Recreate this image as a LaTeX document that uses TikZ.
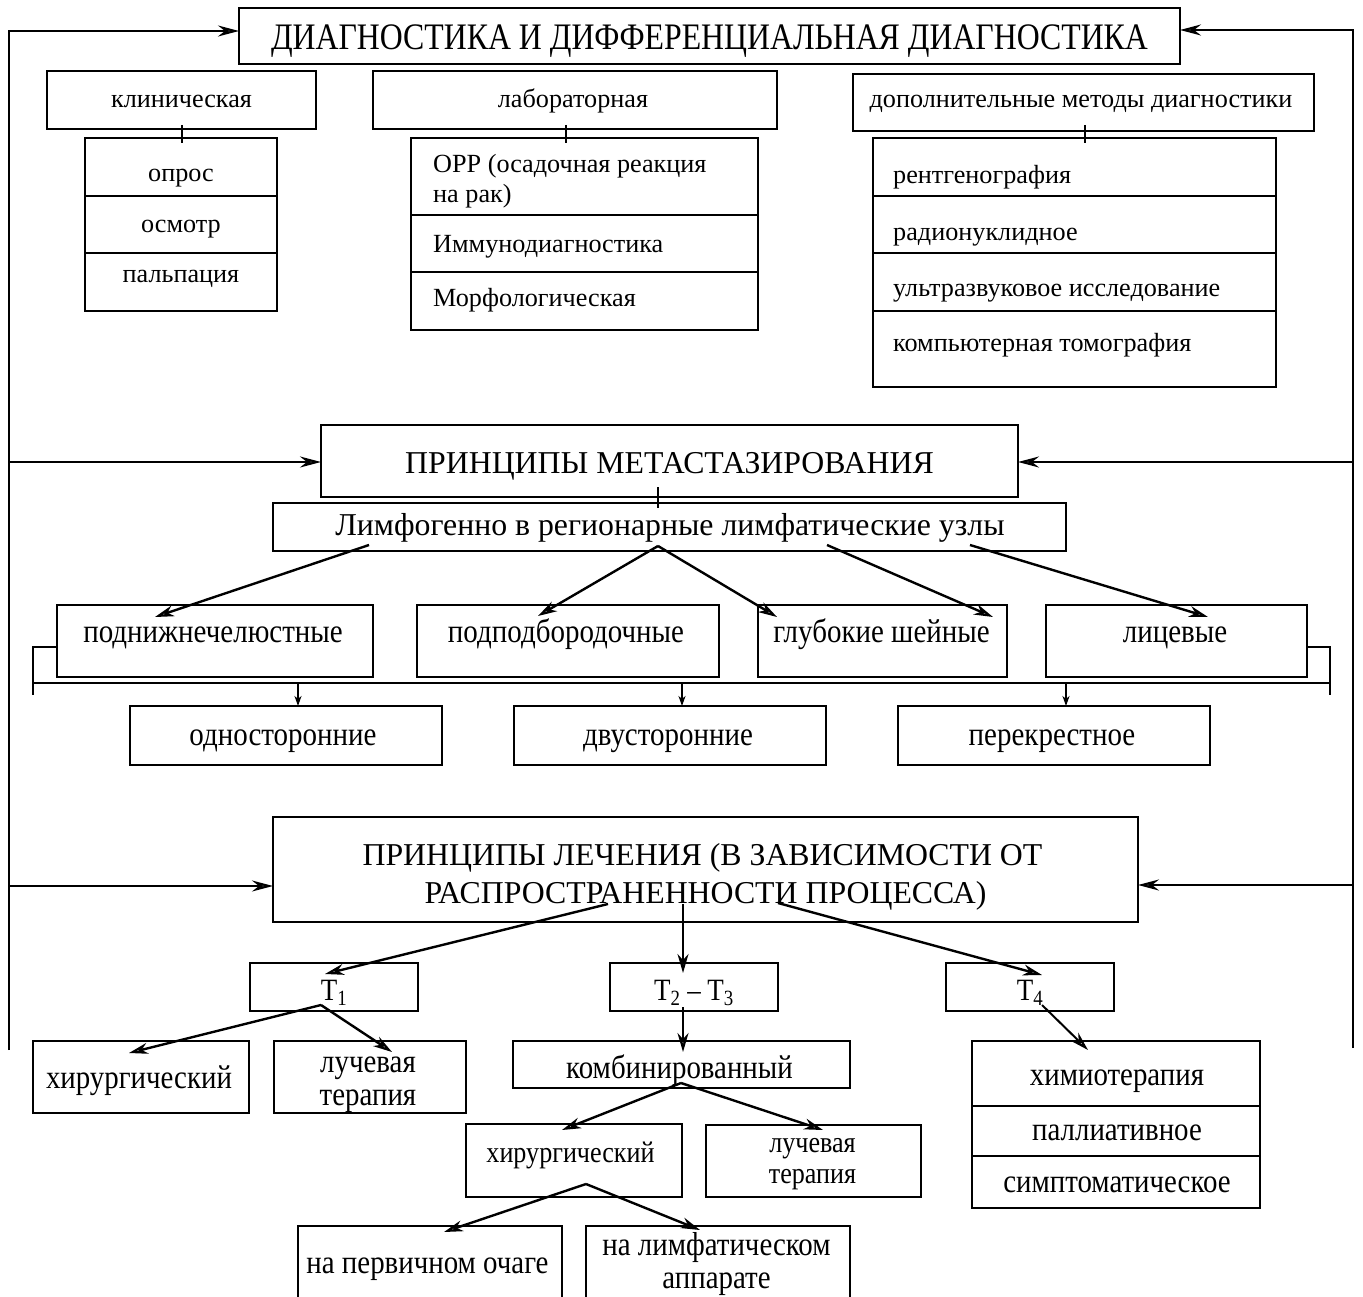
\documentclass[tikz,border=0pt]{standalone}
\usepackage{fontspec}
\setmainfont{Liberation Serif}
\newfontfamily\condA[FakeStretch=0.85]{Liberation Serif}
\newfontfamily\condB[FakeStretch=0.87]{Liberation Serif}
\usetikzlibrary{arrows.meta,calc}
\newcommand{\mkbox}[5]{\node[box,minimum width={(#4-#2)*1pt},minimum height={(#5-#3)*1pt}] (#1) at ({(#2+#4)/2},{(#3+#5)/2}) {};}
\begin{document}
\begin{tikzpicture}[x=1pt,y=-1pt,
 box/.style={draw,line width=1.9pt,inner sep=0pt,outer sep=0pt},
 txt/.style={inner sep=0pt,anchor=base},
 ltxt/.style={inner sep=0pt,anchor=base west},
 fTitle/.style={font=\condA\fontsize{37.4}{44}\selectfont},
 fA/.style={font=\fontsize{31.8}{38}\selectfont},
 fB/.style={font=\condB\fontsize{33.3}{39}\selectfont},
 fC/.style={font=\condB\fontsize{33.2}{39}\selectfont},
 fT/.style={font=\condB\fontsize{31}{37}\selectfont},
 fD/.style={font=\condB\fontsize{30}{35}\selectfont},
 fE/.style={font=\fontsize{26.2}{31}\selectfont},
 arr/.style={line width=2.6pt,-{Stealth[open,length=21pt,width=11pt,inset=7pt,line width=2.2pt]}},
 darr/.style={line width=2.4pt,-{Stealth[open,length=19pt,width=11pt,inset=6pt,line width=2.2pt]}},
 sarr/.style={line width=1.6pt,-{Stealth[length=10pt,width=7pt,inset=3pt]}},
 tk/.style={line width=1.5pt},
 ln/.style={line width=1.9pt}
]
\useasboundingbox (0,0) rectangle (1363,1297);
\clip (0,0) rectangle (1363,1297);

% ---------- boxes ----------
\mkbox{title}{239}{8}{1180}{64}
\mkbox{clin}{47}{71}{316}{129}
\mkbox{lab}{373}{71}{777}{129}
\mkbox{add}{853}{74}{1314}{131}
\mkbox{c1}{85}{138}{277}{196}
\mkbox{c2}{85}{196}{277}{253}
\mkbox{c3}{85}{253}{277}{311}
\mkbox{l1}{411}{138}{758}{215}
\mkbox{l2}{411}{215}{758}{272}
\mkbox{l3}{411}{272}{758}{330}
\mkbox{d1}{873}{138}{1276}{196}
\mkbox{d2}{873}{196}{1276}{253}
\mkbox{d3}{873}{253}{1276}{311}
\mkbox{d4}{873}{311}{1276}{387}
\mkbox{met}{321}{425}{1018}{497}
\mkbox{lym}{273}{503}{1066}{551}
\mkbox{pn}{57}{605}{373}{677}
\mkbox{pp}{417}{605}{719}{677}
\mkbox{gl}{758}{605}{1007}{677}
\mkbox{li}{1046}{605}{1307}{677}
\mkbox{od}{130}{706}{442}{765}
\mkbox{dv}{514}{706}{826}{765}
\mkbox{pk}{898}{706}{1210}{765}
\mkbox{tr}{273}{817}{1138}{922}
\mkbox{t1}{250}{963}{418}{1011}
\mkbox{t23}{610}{963}{778}{1011}
\mkbox{t4}{946}{963}{1114}{1011}
\mkbox{h1}{33}{1041}{249}{1113}
\mkbox{r1}{274}{1041}{466}{1113}
\mkbox{kb}{513}{1041}{850}{1088}
\mkbox{h2}{466}{1124}{682}{1197}
\mkbox{r2}{706}{1125}{921}{1197}
\mkbox{pv}{298}{1226}{562}{1330}
\mkbox{lf}{586}{1226}{850}{1330}
\mkbox{x1}{972}{1041}{1260}{1106}
\mkbox{x2}{972}{1106}{1260}{1156}
\mkbox{x3}{972}{1156}{1260}{1208}

% ---------- texts ----------
\node[txt,fTitle] (tTitle) at (709.5,50) {ДИАГНОСТИКА И ДИФФЕРЕНЦИАЛЬНАЯ ДИАГНОСТИКА};
\node[txt,fE] (tClin) at (181.5,108) {клиническая};
\node[txt,fE] (tLab) at (573,108) {лабораторная};
\node[txt,fE] (tAdd) at (1081,108) {дополнительные методы диагностики};
\node[txt,fE] (tc1) at (181,182) {опрос};
\node[txt,fE] (tc2) at (181,233) {осмотр};
\node[txt,fE] (tc3) at (181,283) {пальпация};
\node[ltxt,fE] (tl1a) at (433,173) {ОРР (осадочная реакция};
\node[ltxt,fE] (tl1b) at (433,203) {на рак)};
\node[ltxt,fE] (tl2) at (433,253) {Иммунодиагностика};
\node[ltxt,fE] (tl3) at (433,307) {Морфологическая};
\node[ltxt,fE] (td1) at (893,184) {рентгенография};
\node[ltxt,fE] (td2) at (893,241) {радионуклидное};
\node[ltxt,fE] (td3) at (893,297) {ультразвуковое исследование};
\node[ltxt,fE] (td4) at (893,352) {компьютерная томография};
\node[txt,fA] (tMet) at (669.5,473) {ПРИНЦИПЫ МЕТАСТАЗИРОВАНИЯ};
\node[txt,fA] (tLym) at (670,535) {Лимфогенно в регионарные лимфатические узлы};
\node[txt,fB] (tpn) at (213,642) {поднижнечелюстные};
\node[txt,fB] (tpp) at (566,642) {подподбородочные};
\node[txt,fB] (tgl) at (881.5,642) {глубокие шейные};
\node[txt,fB] (tli) at (1175,642) {лицевые};
\node[txt,fB] (tod) at (283,745) {односторонние};
\node[txt,fB] (tdv) at (668,745) {двусторонние};
\node[txt,fB] (tpk) at (1052,745) {перекрестное};
\node[txt,fA] (ttr1) at (702.5,865) {ПРИНЦИПЫ ЛЕЧЕНИЯ (В ЗАВИСИМОСТИ ОТ};
\node[txt,fA] (ttr2) at (705.5,903) {РАСПРОСТРАНЕННОСТИ ПРОЦЕССА)};
\node[txt,fT] (tt1) at (334,1000) {T\textsubscript{1}};
\node[txt,fT] (tt23) at (694,1000) {T\textsubscript{2} – T\textsubscript{3}};
\node[txt,fT] (tt4) at (1030,1000) {T\textsubscript{4}};
\node[txt,fC] (th1) at (139,1088) {хирургический};
\node[txt,fC] (tr1a) at (368,1072) {лучевая};
\node[txt,fC] (tr1b) at (368,1105) {терапия};
\node[txt,fC] (tkb) at (679.5,1078) {комбинированный};
\node[txt,fD] (th2) at (570.5,1162) {хирургический};
\node[txt,fD] (tr2a) at (812.5,1152) {лучевая};
\node[txt,fD] (tr2b) at (812.5,1183) {терапия};
\node[txt,fC] (tpv) at (427.5,1273) {на первичном очаге};
\node[txt,fC] (tlfa) at (716.5,1255) {на лимфатическом};
\node[txt,fC] (tlfb) at (716.5,1288) {аппарате};
\node[txt,fC] (tx1) at (1117,1085) {химиотерапия};
\node[txt,fC] (tx2) at (1117,1140) {паллиативное};
\node[txt,fC] (tx3) at (1117,1192) {симптоматическое};

% ---------- outer feedback lines ----------
\coordinate (Lt) at (9,31);
\coordinate (Lb) at (9,1050);
\coordinate (Lm) at (9,462);
\coordinate (Lr) at (9,886);
\coordinate (Rt) at (1353,30);
\coordinate (Rb) at (1353,1048);
\coordinate (Rm) at (1353,462);
\coordinate (Rr) at (1353,885);
\draw[arr] (Lb) -- (Lt) -- (Lt -| title.west);
\draw[arr] (Rb) -- (Rt) -- (Rt -| title.east);
\draw[arr] (Lm) -- (Lm -| met.west);
\draw[arr] (Rm) -- (Rm -| met.east);
\draw[arr] (Lr) -- (Lr -| tr.west);
\draw[arr] (Rr) -- (Rr -| tr.east);

% ---------- ticks ----------
\coordinate (k1) at (182,0);
\coordinate (k2) at (566,0);
\coordinate (k3) at (1085,0);
\coordinate (k4) at (658,0);
\draw[tk] ($(k1 |- clin.south)+(0,-4)$) -- ($(k1 |- c1.north)+(0,5)$);
\draw[tk] ($(k2 |- lab.south)+(0,-4)$) -- ($(k2 |- l1.north)+(0,5)$);
\draw[tk] ($(k3 |- add.south)+(0,-6)$) -- ($(k3 |- d1.north)+(0,5)$);
\draw[tk] ($(k4 |- met.south)+(0,-10)$) -- ($(k4 |- lym.north)+(0,5)$);

% ---------- metastasis arrows ----------
\coordinate (m1s) at (369,545);
\coordinate (m1e) at (155,617);
\coordinate (mA) at (658,546);
\coordinate (m2e) at (538,616);
\coordinate (m3e) at (777,617);
\coordinate (m4s) at (827,545);
\coordinate (m4e) at (993,617);
\coordinate (m5s) at (970,545);
\coordinate (m5e) at (1208,617);
\draw[darr] (m1s) -- (m1e);
\draw[darr] (mA) -- (m2e);
\draw[darr] (mA) -- (m3e);
\draw[darr] (m4s) -- (m4e);
\draw[darr] (m5s) -- (m5e);

% ---------- bracket and split ----------
\coordinate (bL) at (33,647);
\coordinate (bLb) at (33,695);
\coordinate (bR) at (1330,647);
\coordinate (bRb) at (1330,695);
\coordinate (hL) at (33,683);
\coordinate (hR) at (1330,683);
\draw[ln] (bL -| pn.west) -- (bL) -- (bLb);
\draw[ln] (bR -| li.east) -- (bR) -- (bRb);
\draw[ln] (hL) -- (hR);
\draw[sarr] ($(hL -| od.north)+(12,0)$) -- ($(od.north)+(12,0)$);
\draw[sarr] ($(hL -| dv.north)+(12,0)$) -- ($(dv.north)+(12,0)$);
\draw[sarr] ($(hL -| pk.north)+(12,0)$) -- ($(pk.north)+(12,0)$);

% ---------- treatment arrows ----------
\coordinate (b1s) at (608,904);
\coordinate (b1e) at (325,974);
\coordinate (b2s) at (683,904);
\coordinate (b2e) at (683,973);
\coordinate (b3s) at (778,903);
\coordinate (b3e) at (1042,975);
\draw[darr] (b1s) -- (b1e);
\draw[darr] (b2s) -- (b2e);
\draw[darr] (b3s) -- (b3e);

\coordinate (aT1) at (321,1005);
\coordinate (aT1l) at (129,1053);
\coordinate (aT1r) at (392,1052);
\draw[darr] (aT1) -- (aT1l);
\draw[darr] (aT1) -- (aT1r);

\coordinate (aT2) at (683,1007);
\coordinate (aT2e) at (683,1052);
\draw[darr] (aT2) -- (aT2e);

\coordinate (aT4) at (1042,1005);
\coordinate (aT4e) at (1088,1050);
\draw[darr,line width=2pt] (aT4) -- (aT4e);

\coordinate (aK) at (681,1083);
\coordinate (aKl) at (562,1130);
\coordinate (aKr) at (823,1130);
\draw[darr] (aK) -- (aKl);
\draw[darr] (aK) -- (aKr);

\coordinate (aH) at (586,1184);
\coordinate (aHl) at (444,1232);
\coordinate (aHr) at (700,1230);
\draw[darr] (aH) -- (aHl);
\draw[darr] (aH) -- (aHr);
\end{tikzpicture}
\end{document}
